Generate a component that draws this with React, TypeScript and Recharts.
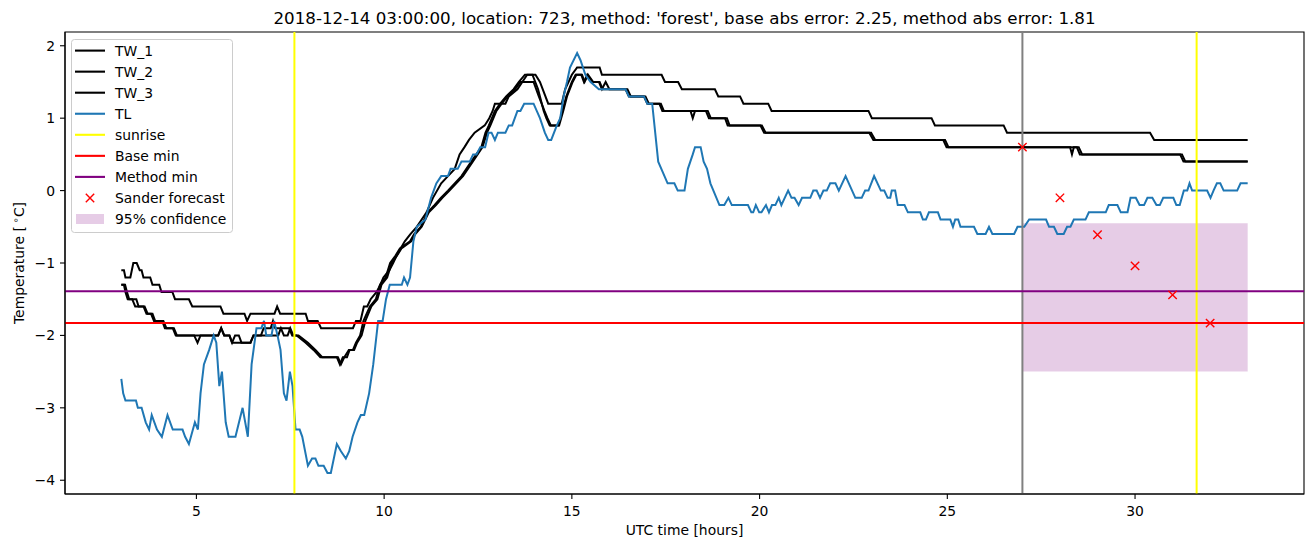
import { ComposedChart, Line, Scatter, XAxis, YAxis, ReferenceLine, ReferenceArea } from "recharts";

// [hour (UTC, from start of 2018-12-14), temperature °C]
const TW_1: [number, number][] = [
  [3.0, -1.1], [3.07, -1.1], [3.11, -1.2], [3.24, -1.2], [3.32, -1.0], [3.41, -1.0], [3.49, -1.1], [3.54, -1.1],
  [3.59, -1.2], [3.77, -1.2], [3.83, -1.3], [4.01, -1.3], [4.07, -1.4], [4.36, -1.4], [4.43, -1.5], [4.8, -1.5],
  [4.89, -1.6], [5.64, -1.6], [5.72, -1.7], [6.28, -1.7], [6.35, -1.8], [6.44, -1.7], [7.08, -1.7], [7.15, -1.6],
  [7.23, -1.7], [7.91, -1.7], [7.97, -1.8], [8.23, -1.8], [8.32, -1.9], [9.17, -1.9], [9.25, -1.8], [9.37, -1.8],
  [9.46, -1.6], [9.55, -1.6], [9.64, -1.5], [9.8, -1.4], [9.9, -1.3], [9.98, -1.2], [10.14, -1.1], [10.24, -1.0],
  [10.33, -0.9], [10.44, -0.8], [10.55, -0.7], [10.7, -0.6], [10.87, -0.5], [11.0, -0.4], [11.13, -0.3],
  [11.3, -0.1], [11.52, 0.1], [11.7, 0.2], [11.88, 0.3], [12.01, 0.5], [12.14, 0.6], [12.26, 0.7], [12.41, 0.8],
  [12.68, 0.9], [12.8, 1.0], [12.89, 1.1], [12.95, 1.2], [13.23, 1.2], [13.32, 1.3], [13.55, 1.4], [13.68, 1.5],
  [13.81, 1.6], [14.03, 1.6], [14.15, 1.5], [14.37, 1.2], [14.73, 1.2], [14.82, 1.4], [15.0, 1.6], [15.14, 1.7],
  [15.74, 1.7], [15.8, 1.6], [17.39, 1.6], [17.48, 1.5], [17.83, 1.5], [17.93, 1.4], [18.81, 1.4], [18.9, 1.3],
  [19.48, 1.3], [19.57, 1.2], [20.23, 1.2], [20.32, 1.1], [22.9, 1.1], [22.99, 1.0], [24.58, 1.0], [24.67, 0.9],
  [26.5, 0.9], [26.59, 0.8], [30.4, 0.8], [30.51, 0.7], [33.0, 0.7],
];

const TW_2: [number, number][] = [
  [3.0, -1.3], [3.07, -1.3], [3.11, -1.4], [3.17, -1.5], [3.29, -1.5], [3.37, -1.6], [3.59, -1.6], [3.67, -1.7],
  [3.79, -1.7], [3.87, -1.8], [4.09, -1.8], [4.16, -1.9], [4.37, -1.9], [4.45, -2.0], [4.94, -2.0], [5.03, -2.1],
  [5.11, -2.0], [5.58, -2.0], [5.66, -1.9], [5.74, -2.0], [5.88, -2.0], [5.95, -2.1], [6.03, -2.0], [6.13, -2.0],
  [6.2, -2.1], [6.44, -2.1], [6.52, -2.0], [7.18, -2.0], [7.25, -1.9], [7.33, -2.0], [7.43, -2.0], [7.5, -1.9],
  [7.58, -2.0], [7.67, -2.0], [7.91, -2.1], [8.12, -2.2], [8.3, -2.3], [8.74, -2.3], [8.82, -2.4], [8.9, -2.3],
  [9.01, -2.3], [9.08, -2.2], [9.17, -2.2], [9.25, -2.1], [9.36, -2.0], [9.45, -1.8], [9.62, -1.6], [9.78, -1.5],
  [9.89, -1.3], [10.04, -1.2], [10.16, -1.0], [10.3, -0.9], [10.42, -0.8], [10.69, -0.7], [10.8, -0.6],
  [10.98, -0.5], [11.16, -0.3], [11.34, -0.2], [11.51, -0.1], [11.7, 0.0], [11.88, 0.1], [12.06, 0.2],
  [12.32, 0.4], [12.59, 0.6], [12.7, 0.8], [12.79, 0.9], [12.95, 1.1], [13.09, 1.2], [13.25, 1.3], [13.45, 1.4],
  [13.59, 1.5], [13.75, 1.6], [13.95, 1.6], [14.1, 1.4], [14.25, 1.1], [14.32, 1.0], [14.41, 0.9], [14.64, 0.9],
  [14.75, 1.1], [14.85, 1.3], [15.0, 1.5], [15.1, 1.6], [15.25, 1.6], [15.32, 1.5], [15.41, 1.6], [15.55, 1.5],
  [15.72, 1.5], [15.8, 1.4], [15.9, 1.5], [16.0, 1.4], [16.43, 1.4], [16.52, 1.3], [16.92, 1.3], [17.01, 1.2],
  [17.33, 1.2], [17.41, 1.1], [18.16, 1.1], [18.22, 1.0], [18.28, 1.1], [18.57, 1.1], [18.65, 1.0], [19.08, 1.0],
  [19.15, 0.9], [20.02, 0.9], [20.12, 0.8], [22.92, 0.8], [23.03, 0.7], [24.89, 0.7], [24.98, 0.6], [28.27, 0.6],
  [28.32, 0.5], [28.37, 0.6], [28.5, 0.6], [28.59, 0.5], [31.2, 0.5], [31.29, 0.4], [33.0, 0.4],
];

const TW_3: [number, number][] = [
  [3.0, -1.3], [3.1, -1.3], [3.15, -1.4], [3.21, -1.5], [3.4, -1.5], [3.46, -1.6], [3.62, -1.6], [3.7, -1.7],
  [3.83, -1.7], [3.9, -1.8], [4.12, -1.8], [4.2, -1.9], [4.4, -1.9], [4.48, -2.0], [5.58, -2.0], [5.66, -1.9],
  [5.74, -2.0], [5.88, -2.0], [5.95, -2.1], [6.44, -2.1], [6.52, -2.0], [6.72, -2.0], [6.79, -1.9], [6.98, -1.9],
  [7.04, -1.8], [7.1, -1.9], [7.47, -1.9], [7.55, -2.0], [7.72, -2.0], [7.97, -2.1], [8.17, -2.2], [8.35, -2.3],
  [8.77, -2.3], [8.85, -2.4], [8.94, -2.3], [9.06, -2.2], [9.2, -2.2], [9.28, -2.1], [9.4, -2.0], [9.5, -1.8],
  [9.66, -1.6], [9.82, -1.5], [9.93, -1.3], [10.08, -1.2], [10.2, -1.0], [10.34, -0.9], [10.46, -0.8],
  [10.72, -0.7], [10.83, -0.6], [11.0, -0.5], [11.19, -0.3], [11.38, -0.2], [11.55, -0.1], [11.74, 0.0],
  [11.92, 0.1], [12.1, 0.2], [12.36, 0.4], [12.62, 0.6], [12.74, 0.8], [12.83, 0.9], [12.99, 1.1], [13.13, 1.2],
  [13.29, 1.3], [13.49, 1.4], [13.63, 1.5], [13.98, 1.5], [14.12, 1.3], [14.27, 1.1], [14.35, 1.0], [14.44, 0.9],
  [14.66, 0.9], [14.77, 1.1], [14.87, 1.3], [15.02, 1.5], [15.12, 1.6], [15.27, 1.6], [15.34, 1.5], [15.43, 1.6],
  [15.57, 1.5], [15.74, 1.5], [15.82, 1.4], [16.48, 1.4], [16.57, 1.3], [16.96, 1.3], [17.05, 1.2], [17.37, 1.2],
  [17.45, 1.1], [18.62, 1.1], [18.7, 1.0], [19.13, 1.0], [19.2, 0.9], [20.06, 0.9], [20.16, 0.8], [22.97, 0.8],
  [23.08, 0.7], [24.94, 0.7], [25.03, 0.6], [28.45, 0.6], [28.53, 0.5], [31.25, 0.5], [31.34, 0.4], [33.0, 0.4],
];

const TL: [number, number][] = [
  [3.0, -2.6], [3.05, -2.8], [3.11, -2.9], [3.39, -2.9], [3.44, -3.0], [3.54, -3.0], [3.65, -3.2], [3.74, -3.3],
  [3.81, -3.1], [3.95, -3.3], [4.08, -3.4], [4.23, -3.1], [4.37, -3.3], [4.48, -3.3], [4.63, -3.3], [4.7, -3.4],
  [4.8, -3.5], [4.96, -3.2], [5.04, -3.3], [5.11, -2.8], [5.2, -2.4], [5.34, -2.2], [5.46, -2.0], [5.53, -2.1],
  [5.61, -2.7], [5.68, -2.5], [5.78, -3.2], [5.86, -3.4], [6.04, -3.4], [6.23, -3.0], [6.37, -3.4], [6.47, -2.4],
  [6.6, -1.9], [6.73, -1.9], [6.8, -1.8], [6.86, -2.0], [7.0, -2.0], [7.07, -1.8], [7.16, -2.0], [7.24, -2.2],
  [7.33, -2.8], [7.4, -2.9], [7.49, -2.5], [7.56, -2.7], [7.64, -3.3], [7.75, -3.3], [7.82, -3.4], [7.97, -3.8],
  [8.08, -3.7], [8.17, -3.7], [8.25, -3.8], [8.39, -3.8], [8.49, -3.9], [8.58, -3.9], [8.74, -3.5], [8.85, -3.6],
  [8.98, -3.7], [9.07, -3.6], [9.16, -3.4], [9.29, -3.2], [9.38, -3.1], [9.47, -3.1], [9.6, -2.8], [9.71, -2.4],
  [9.84, -1.8], [9.96, -1.8], [10.05, -1.5], [10.15, -1.3], [10.47, -1.3], [10.53, -1.2], [10.62, -1.3],
  [10.69, -1.2], [10.78, -0.7], [10.87, -0.5], [11.1, -0.4], [11.25, -0.1], [11.39, 0.1], [11.52, 0.2],
  [11.7, 0.2], [11.77, 0.3], [11.96, 0.3], [12.06, 0.4], [12.28, 0.4], [12.37, 0.5], [12.46, 0.5], [12.56, 0.6],
  [12.69, 0.6], [12.78, 0.8], [12.86, 0.8], [12.95, 0.7], [13.03, 0.8], [13.23, 0.8], [13.32, 0.9], [13.41, 0.9],
  [13.55, 1.1], [13.63, 1.1], [13.73, 1.2], [13.98, 1.2], [14.15, 1.0], [14.28, 0.8], [14.37, 0.7], [14.45, 0.7],
  [14.6, 0.9], [14.69, 1.0], [14.78, 1.3], [14.87, 1.5], [14.95, 1.7], [15.14, 1.9], [15.23, 1.8], [15.36, 1.6],
  [15.5, 1.5], [15.72, 1.4], [16.43, 1.4], [16.52, 1.3], [16.92, 1.3], [17.01, 1.2], [17.14, 1.2], [17.3, 0.4],
  [17.55, 0.1], [17.73, 0.1], [17.82, 0.0], [18.0, 0.0], [18.09, 0.3], [18.22, 0.5], [18.28, 0.6], [18.43, 0.6],
  [18.51, 0.4], [18.6, 0.3], [18.69, 0.1], [18.93, -0.2], [19.06, -0.2], [19.17, -0.1], [19.26, -0.2],
  [19.69, -0.2], [19.78, -0.3], [19.83, -0.3], [19.9, -0.2], [19.99, -0.3], [20.05, -0.3], [20.17, -0.2],
  [20.25, -0.3], [20.33, -0.2], [20.42, -0.2], [20.51, -0.1], [20.58, -0.2], [20.76, 0.0], [20.85, -0.1],
  [20.93, -0.1], [21.04, -0.2], [21.13, -0.1], [21.35, -0.1], [21.43, 0.0], [21.52, 0.0], [21.61, -0.1],
  [21.7, 0.0], [21.79, 0.0], [21.88, 0.1], [22.02, 0.1], [22.11, 0.0], [22.29, 0.2], [22.55, -0.1], [22.72, -0.1],
  [22.81, 0.0], [22.9, 0.0], [23.05, 0.2], [23.23, 0.0], [23.32, 0.0], [23.41, -0.1], [23.48, -0.1], [23.52, 0.0],
  [23.61, 0.0], [23.68, -0.2], [23.86, -0.2], [23.95, -0.3], [24.28, -0.3], [24.35, -0.4], [24.43, -0.4],
  [24.51, -0.3], [24.75, -0.3], [24.82, -0.4], [25.08, -0.4], [25.15, -0.5], [25.21, -0.4], [25.29, -0.4],
  [25.35, -0.5], [25.71, -0.5], [25.8, -0.6], [26.02, -0.6], [26.11, -0.5], [26.2, -0.6], [26.78, -0.6],
  [26.87, -0.5], [27.05, -0.5], [27.18, -0.4], [27.63, -0.4], [27.71, -0.5], [27.84, -0.5], [27.93, -0.6],
  [28.1, -0.6], [28.19, -0.5], [28.28, -0.5], [28.37, -0.4], [28.68, -0.4], [28.77, -0.3], [29.22, -0.3],
  [29.3, -0.2], [29.53, -0.2], [29.62, -0.3], [29.8, -0.3], [29.88, -0.1], [30.02, -0.1], [30.12, -0.2],
  [30.24, -0.2], [30.33, -0.1], [30.46, -0.1], [30.57, -0.2], [30.66, -0.2], [30.75, -0.1], [31.02, -0.1],
  [31.1, -0.2], [31.19, -0.2], [31.3, 0.0], [31.39, 0.0], [31.45, 0.1], [31.52, 0.0], [31.92, 0.0], [32.01, -0.1],
  [32.09, 0.0], [32.18, 0.1], [32.27, 0.1], [32.36, 0.0], [32.72, 0.0], [32.81, 0.1], [33.0, 0.1],
];

const FORECAST_HOURS = [27, 28, 29, 30, 31, 32];
const FORECAST_TEMPS = [0.6, -0.1, -0.61, -1.04, -1.44, -1.83];

const SUNRISE = [7.61, 31.64];
const FORECAST_START = 27;
const FORECAST_END = 33;
const BASE_MIN = -1.83;
const METHOD_MIN = -1.39;
const CONF_LOW = -2.5;
const CONF_HIGH = -0.45;

const X_TICKS = [5, 10, 15, 20, 25, 30];
const Y_TICKS = [-4, -3, -2, -1, 0, 1, 2];
const X_DOMAIN = [1.5, 34.5];
const Y_DOMAIN = [-4.19, 2.19];

const TITLE = "2018-12-14 03:00:00, location: 723, method: 'forest', base abs error: 2.25, method abs error: 1.81";

const FONT = "'DejaVu Sans', sans-serif";
const PURPLE = "#800080";

const toRows = (pts: [number, number][]) => pts.map(([t, v]) => ({ t, v }));
const fmt = (v: number) => (v < 0 ? "\u2212" + Math.abs(v) : String(v));

function XTick({ x, y, payload }: any) {
  return (
    <text x={x} y={y + 11.5} textAnchor="middle" fontSize={13.9} fontFamily={FONT} fill="#000">
      {fmt(payload.value)}
    </text>
  );
}

function YTick({ x, y, payload }: any) {
  return (
    <text x={x} y={y + 5} textAnchor="end" fontSize={13.9} fontFamily={FONT} fill="#000">
      {fmt(payload.value)}
    </text>
  );
}

function Cross({ cx, cy }: any) {
  const r = 4.2;
  return (
    <path
      d={`M${cx - r},${cy - r}L${cx + r},${cy + r}M${cx - r},${cy + r}L${cx + r},${cy - r}`}
      stroke="#ff0000"
      strokeWidth={1.4}
      fill="none"
    />
  );
}

const LEGEND = [
  { label: "TW_1", kind: "line", color: "#000000" },
  { label: "TW_2", kind: "line", color: "#000000" },
  { label: "TW_3", kind: "line", color: "#000000" },
  { label: "TL", kind: "line", color: "#1f77b4" },
  { label: "sunrise", kind: "line", color: "#ffff00" },
  { label: "Base min", kind: "line", color: "#ff0000" },
  { label: "Method min", kind: "line", color: PURPLE },
  { label: "Sander forecast", kind: "cross", color: "#ff0000" },
  { label: "95% confidence", kind: "patch", color: PURPLE },
];

function Overlay() {
  return (
    <svg width={1313} height={547} style={{ position: "absolute", left: 0, top: 0, pointerEvents: "none" }}>
      <text x={684.5} y={24} textAnchor="middle" fontSize={16.7} fontFamily={FONT} fill="#000">
        {TITLE}
      </text>
      <text x={684.5} y={535} textAnchor="middle" fontSize={13.9} fontFamily={FONT} fill="#000">
        UTC time [hours]
      </text>
      <text transform="translate(23.5,263) rotate(-90)" textAnchor="middle" fontSize={13.9} fontFamily={FONT} fill="#000">
        Temperature [<tspan dx={3} dy={-5} fontSize={9.7}>∘</tspan>
        <tspan dy={5}>C]</tspan>
      </text>

      <rect x={71.5} y={39.5} width={161} height={193} rx={3} fill="#fff" fillOpacity={0.8} stroke="#cccccc" />
      {LEGEND.map((e, i) => {
        const cy = 50.6 + i * 21.05;
        return (
          <g key={e.label}>
            {e.kind === "line" && <line x1={75} x2={105} y1={cy} y2={cy} stroke={e.color} strokeWidth={2.1} />}
            {e.kind === "cross" && <Cross cx={90} cy={cy} />}
            {e.kind === "patch" && (
              <rect x={76} y={cy - 5} width={28} height={10} fill={e.color} fillOpacity={0.2} />
            )}
            <text x={115} y={cy + 5} fontSize={13.9} fontFamily={FONT} fill="#000">
              {e.label}
            </text>
          </g>
        );
      })}
    </svg>
  );
}

export default function App() {
  const forecast = FORECAST_HOURS.map((t, i) => ({ t, v: FORECAST_TEMPS[i] }));
  return (
    <div style={{ position: "absolute", left: 0, top: 0, width: 1313, height: 547, background: "#fff" }}>
      <ComposedChart width={1313} height={547} margin={{ top: 32, right: 9, bottom: 23, left: 15 }}>
        <XAxis
          dataKey="t"
          type="number"
          domain={X_DOMAIN}
          ticks={X_TICKS}
          allowDataOverflow
          height={30}
          tickSize={5}
          tickMargin={5}
          tick={<XTick />}
          stroke="#000"
          tickLine={{ stroke: "#000", strokeWidth: 1.1 }}
          axisLine={{ stroke: "#000", strokeWidth: 1.1 }}
        />
        <YAxis
          type="number"
          domain={Y_DOMAIN}
          ticks={Y_TICKS}
          allowDataOverflow
          width={50}
          tickSize={5}
          tickMargin={5}
          tick={<YTick />}
          stroke="#000"
          tickLine={{ stroke: "#000", strokeWidth: 1.1 }}
          axisLine={{ stroke: "#000", strokeWidth: 1.1 }}
        />
        <ReferenceArea
          x1={FORECAST_START}
          x2={FORECAST_END}
          y1={CONF_LOW}
          y2={CONF_HIGH}
          fill={PURPLE}
          fillOpacity={0.2}
          stroke="none"
        />
        <Line data={toRows(TW_1)} dataKey="v" stroke="#000" strokeWidth={2} dot={false} isAnimationActive={false} />
        <Line data={toRows(TW_2)} dataKey="v" stroke="#000" strokeWidth={2} dot={false} isAnimationActive={false} />
        <Line data={toRows(TW_3)} dataKey="v" stroke="#000" strokeWidth={2} dot={false} isAnimationActive={false} />
        <Line data={toRows(TL)} dataKey="v" stroke="#1f77b4" strokeWidth={2} dot={false} isAnimationActive={false} />
        {SUNRISE.map((s) => (
          <ReferenceLine key={s} x={s} stroke="#ffff00" strokeWidth={2} />
        ))}
        <ReferenceLine x={FORECAST_START} stroke="#808080" strokeWidth={2} />
        <ReferenceLine y={BASE_MIN} stroke="#ff0000" strokeWidth={2} />
        <ReferenceLine y={METHOD_MIN} stroke={PURPLE} strokeWidth={2} />
        <Scatter data={forecast} dataKey="v" shape={<Cross />} isAnimationActive={false} />
        <ReferenceArea
          x1={X_DOMAIN[0]}
          x2={X_DOMAIN[1]}
          y1={Y_DOMAIN[0]}
          y2={Y_DOMAIN[1]}
          fill="none"
          stroke="#000"
          strokeWidth={1.1}
          ifOverflow="visible"
        />
      </ComposedChart>
      <Overlay />
    </div>
  );
}
